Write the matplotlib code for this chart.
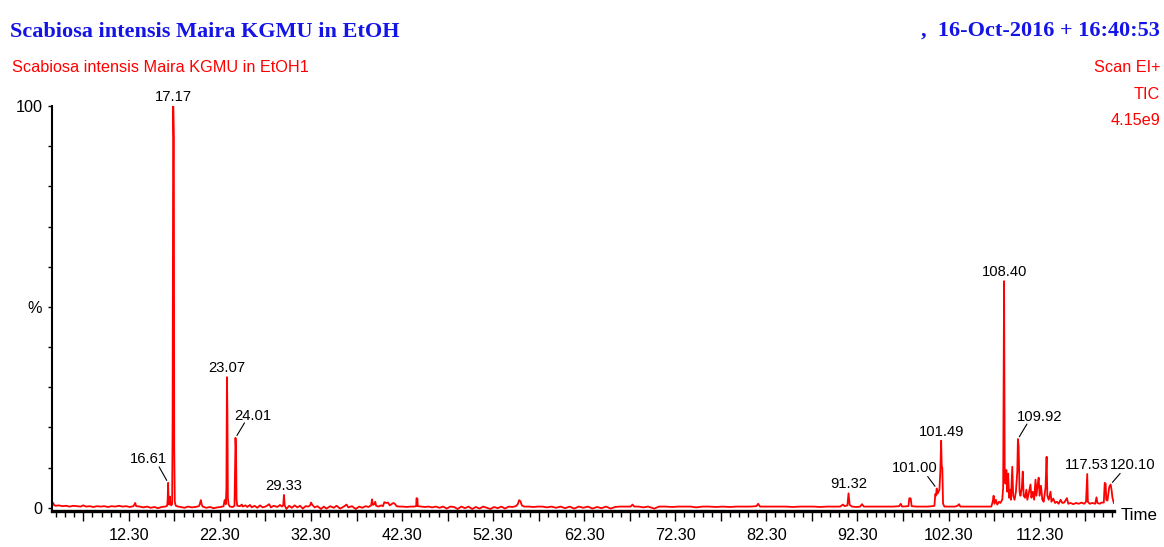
import numpy as np
import matplotlib.pyplot as plt
from matplotlib.ticker import FixedLocator, FuncFormatter

# retention time (min) and relative TIC intensity (%)
rt = [
    3.90, 4.00, 4.10, 4.30, 4.60, 5.00, 5.40, 5.80, 6.20, 6.60, 7.00, 7.30, 7.60, 8.00,
    8.40, 8.80, 9.20, 9.60, 10.00, 10.40, 10.80, 11.20, 11.60, 12.00, 12.40, 12.80, 13.00,
    13.10, 13.50, 13.90, 14.30, 14.70, 15.10, 15.50, 15.90, 16.30, 16.50, 16.56, 16.61,
    16.66, 16.72, 16.80, 16.86, 16.95, 17.05, 17.10, 17.17, 17.24, 17.28, 17.34, 17.45,
    17.70, 18.00, 18.40, 18.80, 19.20, 19.60, 20.00, 20.10, 20.20, 20.30, 20.40, 20.80,
    21.20, 21.60, 22.00, 22.40, 22.70, 22.80, 22.88, 22.95, 23.01, 23.07, 23.12, 23.17,
    23.25, 23.40, 23.70, 23.90, 23.96, 24.01, 24.07, 24.12, 24.20, 24.50, 24.70, 24.80,
    25.10, 25.30, 25.60, 25.80, 26.10, 26.40, 26.70, 27.00, 27.40, 27.70, 27.90, 28.20,
    28.60, 28.90, 29.10, 29.25, 29.33, 29.41, 29.60, 29.90, 30.20, 30.50, 30.80, 31.10,
    31.40, 31.70, 32.00, 32.20, 32.30, 32.45, 32.70, 33.00, 33.40, 33.70, 34.00, 34.40,
    34.80, 35.10, 35.50, 35.90, 36.20, 36.40, 36.80, 37.20, 37.60, 37.90, 38.30, 38.60,
    38.90, 39.00, 39.10, 39.25, 39.35, 39.45, 39.70, 40.00, 40.20, 40.35, 40.55, 40.75,
    40.95, 41.20, 41.35, 41.50, 41.70, 42.00, 42.40, 42.80, 43.20, 43.60, 43.85, 43.88,
    43.98, 44.02, 44.40, 44.80, 45.20, 45.60, 46.00, 46.40, 46.80, 47.20, 47.60, 48.00,
    48.40, 48.80, 49.20, 49.60, 50.00, 50.40, 50.80, 51.20, 51.60, 52.00, 52.40, 52.80,
    53.20, 53.60, 54.00, 54.40, 54.80, 55.00, 55.15, 55.30, 55.45, 55.70, 56.20, 56.70,
    57.20, 57.70, 58.20, 58.70, 59.20, 59.70, 60.20, 60.70, 61.20, 61.70, 62.20, 62.70,
    63.20, 63.70, 64.20, 64.70, 65.20, 65.70, 66.20, 66.70, 67.40, 67.60, 67.80, 68.30,
    68.80, 69.30, 70.00, 70.50, 71.20, 72.00, 72.60, 73.30, 74.00, 74.60, 75.30, 76.00,
    76.80, 77.50, 78.30, 79.00, 79.80, 80.50, 81.20, 81.40, 81.60, 82.30, 83.00, 83.80,
    84.50, 85.20, 86.00, 86.70, 87.50, 88.20, 89.00, 89.70, 90.40, 90.70, 90.90, 91.20,
    91.32, 91.45, 91.70, 92.20, 92.60, 92.80, 93.00, 93.80, 94.60, 95.40, 96.20, 96.90,
    97.05, 97.20, 97.90, 98.00, 98.15, 98.25, 98.80, 99.40, 100.00, 100.50, 100.75, 100.85,
    100.93, 101.00, 101.10, 101.30, 101.40, 101.49, 101.55, 101.62, 101.70, 101.85, 102.40,
    103.00, 103.30, 103.45, 103.60, 104.20, 104.80, 105.40, 106.00, 106.60, 107.00, 107.15,
    107.25, 107.35, 107.50, 107.65, 107.85, 108.00, 108.20, 108.30, 108.40, 108.47, 108.55,
    108.65, 108.75, 108.85, 108.95, 109.05, 109.15, 109.30, 109.40, 109.55, 109.70, 109.85,
    109.92, 110.00, 110.10, 110.20, 110.35, 110.45, 110.55, 110.70, 110.85, 110.95, 111.10,
    111.30, 111.40, 111.55, 111.70, 111.85, 111.95, 112.10, 112.20, 112.30, 112.45, 112.60,
    112.75, 112.95, 113.07, 113.15, 113.30, 113.50, 113.60, 113.80, 114.00, 114.20, 114.40,
    114.60, 114.80, 115.00, 115.30, 115.45, 115.70, 116.00, 116.30, 116.60, 116.90, 117.20,
    117.40, 117.53, 117.60, 117.80, 118.10, 118.40, 118.55, 118.65, 118.90, 119.10, 119.35,
    119.45, 119.55, 119.62, 119.75, 119.95, 120.10, 120.20, 120.30, 120.45,
]
tic = [
    0.9, 1.2, 0.6, 0.5, 0.6, 0.4, 0.5, 0.3, 0.5, 0.4, 0.3, 0.6, 0.3, 0.4,
    0.2, 0.4, 0.3, 0.4, 0.2, 0.4, 0.3, 0.5, 0.3, 0.4, 0.2, 0.4, 1.2,
    0.4, 0.3, 0.1, 0.3, 0.0, 0.2, -0.1, 0.2, 0.3, 0.5, 2.0, 6.2,
    1.5, 0.8, 2.8, 1.0, 0.6, 0.9, 20.0, 100.0, 92.0, 15.0, 1.5, 0.5,
    0.3, 0.2, 0.0, 0.3, 0.1, 0.2, 0.4, 1.0, 1.9, 0.8, 0.3, 0.0,
    0.2, -0.1, 0.1, 0.2, 0.4, 1.8, 2.0, 0.9, 5.0, 32.5, 24.0, 2.5,
    0.8, 0.3, 0.2, 0.5, 9.0, 17.4, 14.0, 2.0, 0.5, 0.4, 0.8, 0.3,
    0.6, 0.2, 0.7, 0.1, 0.5, 0.0, 0.6, 0.1, 0.4, 0.9, 0.1, 0.5,
    0.2, 0.7, 0.3, 0.6, 3.2, 0.6, -0.3, 0.5, 0.0, 0.6, 0.1, 0.5,
    -0.2, 0.4, 0.3, 0.6, 1.3, 0.7, 0.1, 0.4, -0.3, 0.3, -0.2, 0.4,
    0.0, 0.5, -0.2, 0.3, 0.8, 0.1, 0.4, -0.3, 0.3, 0.0, 0.4, 0.2,
    0.6, 2.1, 0.7, 0.9, 1.5, 0.5, 0.3, 0.6, 0.4, 1.4, 1.2, 1.3,
    0.6, 1.0, 1.2, 1.0, 0.4, 0.3, 0.3, 0.2, 0.3, 0.3, 0.4, 2.4,
    2.3, 0.4, 0.3, 0.2, 0.3, 0.1, 0.3, 0.0, 0.3, -0.2, 0.3, 0.2,
    -0.3, 0.3, -0.1, 0.3, -0.3, 0.2, -0.2, 0.3, 0.0, -0.3, 0.2, -0.1,
    0.3, -0.2, 0.3, 0.2, 0.4, 0.9, 1.9, 1.6, 0.6, 0.3, 0.3, 0.2,
    0.3, 0.3, 0.1, 0.3, 0.0, 0.3, -0.1, 0.3, -0.2, 0.3, 0.0, 0.3,
    -0.2, 0.2, -0.1, 0.3, -0.2, 0.2, 0.3, 0.3, 0.3, 0.8, 0.3, 0.3,
    0.1, 0.3, -0.2, 0.3, 0.3, 0.2, 0.3, 0.3, 0.3, 0.1, 0.3, 0.3,
    0.2, 0.3, 0.2, 0.3, 0.3, 0.3, 0.4, 1.0, 0.3, 0.3, 0.3, 0.3,
    0.3, 0.2, 0.3, 0.3, 0.3, 0.2, 0.3, 0.3, 0.3, 0.8, 0.4, 0.6,
    3.6, 0.7, 0.3, 0.2, 0.3, 0.9, 0.3, 0.3, 0.3, 0.3, 0.3, 0.4,
    1.0, 0.3, 0.4, 2.4, 2.3, 0.4, 0.3, 0.3, 0.3, 0.4, 0.5, 3.4,
    3.0, 4.8, 3.5, 4.5, 9.0, 16.7, 10.5, 9.8, 1.0, 0.3, 0.3,
    0.3, 0.5, 0.9, 0.3, 0.3, 0.3, 0.3, 0.3, 0.3, 0.3, 1.5,
    3.0, 1.0, 2.0, 0.8, 1.5, 1.2, 2.0, 5.0, 56.4, 8.0, 6.0,
    9.4, 4.0, 8.5, 2.5, 4.5, 2.0, 10.2, 3.0, 2.0, 4.0, 9.0,
    17.1, 15.2, 4.0, 3.0, 5.0, 9.0, 3.0, 2.5, 4.5, 2.0, 3.5,
    5.8, 2.5, 4.0, 2.0, 7.0, 3.0, 6.0, 7.5, 3.0, 5.5, 2.0,
    1.5, 5.0, 12.7, 3.0, 2.0, 4.0, 1.5, 2.3, 1.2, 1.5, 1.0,
    2.0, 1.2, 1.3, 2.4, 1.0, 1.2, 0.9, 1.2, 1.0, 1.3, 1.0,
    1.5, 8.4, 1.5, 1.0, 1.2, 1.0, 2.6, 1.2, 1.0, 1.3, 1.3,
    6.2, 6.0, 2.0, 1.8, 5.2, 5.8, 4.5, 2.5, 1.2,
]

# labelled peaks
peak_rt = [16.61, 17.17, 23.07, 24.01, 29.33, 91.32, 101.00, 101.49, 108.40, 109.92, 117.53, 120.10]
# label offsets in px (text centre x, baseline y) and optional leader end, relative to the peak top
label_offset = {
    16.61: (-20, 20, (-9, 16)),
    24.01: (17, 18, (9, 15)),
    101.00: (-22, 16, (-9, 12)),
    109.92: (22, 18.5, (9, 15)),
    120.10: (22, 15, (9.5, 11)),
}

W, H = 1164, 547
RED = '#ff0000'
BLUE = '#1414e6'
SANS = ['Liberation Sans', 'DejaVu Sans']
SERIF = ['Liberation Serif', 'DejaVu Serif']
PT = 0.72  # points per pixel at dpi 100

plt.rcParams['font.family'] = SANS

fig = plt.figure(figsize=(W / 100, H / 100), dpi=100)
ax = fig.add_axes([52 / W, 1 - 511 / H, (1114 - 52) / W, (511 - 106) / H])

ax.plot(rt, tic, color=RED, lw=1.3)
ax.set_xlim(3.86, 120.47)
ax.set_ylim(-0.8, 100)

for s in ('top', 'right'):
    ax.spines[s].set_visible(False)
ax.spines['left'].set_linewidth(1.5)
ax.spines['bottom'].set_linewidth(2.4)

# x ticks: every 5 min with labels every 10, minor every minute
major = np.arange(7.3, 120.4, 5)
ax.xaxis.set_major_locator(FixedLocator(major))
ax.xaxis.set_minor_locator(FixedLocator(np.arange(4.3, 120.5, 1)))
ax.xaxis.set_major_formatter(FuncFormatter(
    lambda v, p: f'{v:.2f}' if round(v - 2.3) % 10 == 0 else ''))
ax.tick_params(axis='x', which='major', length=7.5, width=1.0, pad=5, labelsize=11.7)
ax.tick_params(axis='x', which='minor', length=4, width=1.0)

ax.yaxis.set_major_locator(FixedLocator(range(0, 101, 10)))
ax.yaxis.set_major_formatter(FuncFormatter(
    lambda v, p: {0: '0', 50: '%', 100: '100'}.get(int(round(v)), '')))
ax.tick_params(axis='y', length=3, width=1.0, pad=4, labelsize=11.7)

# peak labels
for p in peak_rt:
    h = np.interp(p, rt, tic)
    dx, dy, lead = label_offset.get(p, (0, 5, None))
    ax.annotate(f'{p:.2f}', xy=(p, h), xytext=(dx * PT, dy * PT),
                textcoords='offset points', ha='center', va='baseline',
                fontsize=10.6, color='black')
    if lead:
        ax.annotate('', xy=(p, h), xytext=(lead[0] * PT, lead[1] * PT),
                    textcoords='offset points',
                    arrowprops=dict(arrowstyle='-', color='black', lw=0.8,
                                    shrinkA=0, shrinkB=2))

# header texts
fig.text(10 / W, 1 - 37 / H, 'Scabiosa intensis Maira KGMU in EtOH', family=SERIF,
         weight='bold', fontsize=16.0, color=BLUE, ha='left', va='baseline')
fig.text(1160 / W, 1 - 36 / H, ',  16-Oct-2016 + 16:40:53', family=SERIF,
         weight='bold', fontsize=16.0, color=BLUE, ha='right', va='baseline')
fig.text(12 / W, 1 - 72 / H, 'Scabiosa intensis Maira KGMU in EtOH1',
         fontsize=11.7, color=RED, ha='left', va='baseline')
fig.text(1160 / W, 1 - 72 / H, 'Scan EI+', fontsize=11.7, color=RED, ha='right', va='baseline')
fig.text(1160 / W, 1 - 99 / H, 'TIC', fontsize=11.7, color=RED, ha='right', va='baseline')
fig.text(1160 / W, 1 - 125 / H, '4.15e9', fontsize=11.7, color=RED, ha='right', va='baseline')
fig.text(1121 / W, 1 - 520 / H, 'Time', fontsize=12.2, color='black', ha='left', va='baseline')

fig.savefig('out.png', dpi=100)
